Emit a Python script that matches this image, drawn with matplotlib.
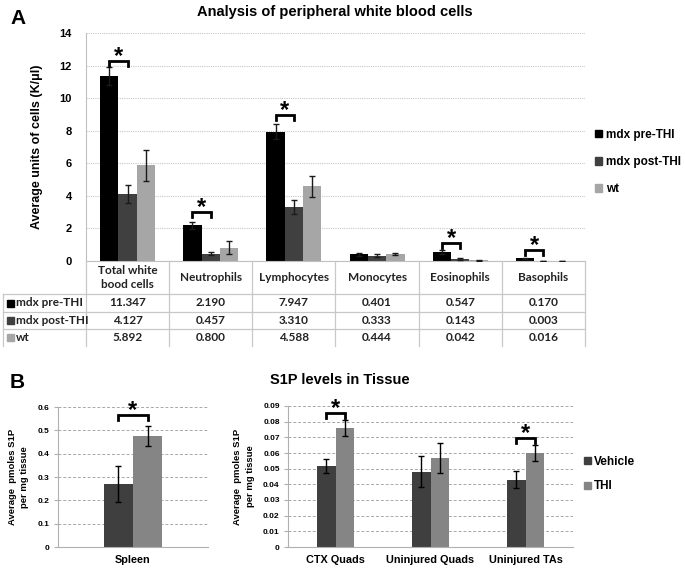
import matplotlib
matplotlib.use('Agg')
import matplotlib.pyplot as plt
import numpy as np
from matplotlib.transforms import blended_transform_factory
from matplotlib.patches import Rectangle

# ---------------- data ----------------
categories_a = ["Total white\nbood cells", "Neutrophils", "Lymphocytes",
                "Monocytes", "Eosinophils", "Basophils"]
series_a = ["mdx pre-THI", "mdx post-THI", "wt"]
pre_thi = [11.347, 2.190, 7.947, 0.401, 0.547, 0.170]
post_thi = [4.127, 0.457, 3.310, 0.333, 0.143, 0.003]
wt = [5.892, 0.800, 4.588, 0.444, 0.042, 0.016]
pre_err = [0.55, 0.22, 0.45, 0.07, 0.10, 0.04]
post_err = [0.55, 0.08, 0.42, 0.07, 0.06, 0.004]
wt_err = [0.95, 0.40, 0.65, 0.07, 0.02, 0.01]
table_text = [["11.347", "2.190", "7.947", "0.401", "0.547", "0.170"],
              ["4.127", "0.457", "3.310", "0.333", "0.143", "0.003"],
              ["5.892", "0.800", "4.588", "0.444", "0.042", "0.016"]]
sig_a_cats = [0, 1, 2, 4, 5]
sig_a_level = [12.3, 3.0, 8.95, 1.1, 0.67]

tissue_left = ["Spleen"]
veh_left = [0.270]
thi_left = [0.476]
veh_left_err = [0.077]
thi_left_err = [0.043]

tissue_right = ["CTX Quads", "Uninjured Quads", "Uninjured TAs"]
veh_right = [0.0515, 0.048, 0.043]
thi_right = [0.076, 0.057, 0.060]
veh_right_err = [0.0045, 0.010, 0.0055]
thi_right_err = [0.005, 0.0095, 0.005]
sig_left_level = [0.566]
sig_right_cats = [0, 2]
sig_right_level = [0.0855, 0.0695]

# ---------------- style ----------------
W, H = 685, 575
plt.rcParams['font.family'] = ['Liberation Sans', 'DejaVu Sans']
colors_a = ['#000000', '#404040', '#a6a6a6']
colors_b = ['#3f3f3f', '#858585']
fig = plt.figure(figsize=(W / 100, H / 100), dpi=100)


def px_axes(l, t, r, b):
    return fig.add_axes([l / W, 1 - b / H, (r - l) / W, (b - t) / H])


# ---------------- Panel A ----------------
axA = px_axes(86, 33, 585, 261)
x = np.arange(len(categories_a))
bw = 0.22
for k, (vals, errs) in enumerate([(pre_thi, pre_err), (post_thi, post_err), (wt, wt_err)]):
    axA.bar(x + (k - 1) * bw, vals, bw, color=colors_a[k], zorder=2, label=series_a[k])
    axA.errorbar(x + (k - 1) * bw, vals, yerr=errs, fmt='none', ecolor='#1a1a1a',
                 elinewidth=1, capsize=2, capthick=1, zorder=3)
axA.set_xlim(-0.5, len(categories_a) - 0.5)
axA.set_ylim(0, 14)
axA.set_yticks(np.arange(0, 15, 2))
axA.yaxis.grid(True, color='#c8c8c8', linestyle=(0, (1, 1)), linewidth=0.8, zorder=0)
axA.set_axisbelow(True)
axA.set_xticks([])
for s in ['top', 'right']:
    axA.spines[s].set_visible(False)
axA.spines['left'].set_color('#c0c0c0')
axA.spines['bottom'].set_color('#c0c0c0')
axA.tick_params(axis='y', length=0, labelsize=8, pad=10)
for lab in axA.get_yticklabels():
    lab.set_fontweight('bold')
axA.set_ylabel("Average units of cells (K/\u03bcl)", fontsize=9, fontweight='bold', labelpad=12)

for c, lev in zip(sig_a_cats, sig_a_level):
    x1, x2 = c - bw, c
    d = 0.3
    axA.plot([x1, x1, x2, x2], [lev - d, lev, lev, lev - d], color='black', lw=2,
             solid_joinstyle='miter', zorder=4, clip_on=False)
    axA.annotate('*', xy=((x1 + x2) / 2, lev), xytext=(0, -5), textcoords='offset points',
                 ha='center', va='bottom', fontsize=17, fontweight='bold')

handles_a = [Rectangle((0, 0), 1, 1, color=c) for c in colors_a]
fig.legend(handles_a, series_a, loc='center left', bbox_to_anchor=(584 / W, 1 - 162 / H),
           frameon=False, handlelength=0.65, handleheight=0.65, handletextpad=0.35,
           labelspacing=1.3, prop={'weight': 'bold', 'size': 8.5})

fig.text(335 / W, 1 - 12 / H, "Analysis of peripheral white blood cells", ha='center',
         va='center', fontsize=10.5, fontweight='bold')
fig.text(10 / W, 1 - 18 / H, "A", ha='left', va='center', fontsize=15, fontweight='bold')

# ---------------- Table ----------------
ov = fig.add_axes([0, 0, 1, 1])
ov.set_xlim(0, W)
ov.set_ylim(H, 0)
ov.axis('off')
tr = blended_transform_factory(axA.transData, ov.transData)
row_lines = [294, 312, 329]
row_centers = [303, 320.5, 337.5]
tbl_top, tbl_bot = 261, 346
lc = '#c8c8c8'
for b in np.arange(len(categories_a) + 1) - 0.5:
    ov.plot([b, b], [tbl_top, tbl_bot], color=lc, lw=0.9, transform=tr)
for yl in row_lines:
    ov.plot([3, 585], [yl, yl], color=lc, lw=0.9)
ov.plot([3, 3], [294, tbl_bot], color=lc, lw=0.9)
tfont = dict(family=['Lato', 'DejaVu Sans'], fontweight='bold', fontsize=8.5, color='#222222')
for i, cat in enumerate(categories_a):
    ov.text(i, 277.5, cat, ha='center', va='center', transform=tr, linespacing=1.35, **tfont)
for r in range(3):
    ov.add_patch(Rectangle((7, row_centers[r] - 3.5), 7, 7, color=colors_a[r]))
    ov.text(16, row_centers[r], series_a[r], ha='left', va='center', **tfont)
    for i in range(len(categories_a)):
        ov.text(i, row_centers[r], table_text[r][i], ha='center', va='center', transform=tr, **tfont)

# ---------------- Panel B ----------------
fig.text(10 / W, 1 - 383 / H, "B", ha='left', va='center', fontsize=15, fontweight='bold')
fig.text(340 / W, 1 - 380 / H, "S1P levels in Tissue", ha='center', va='center',
         fontsize=10.5, fontweight='bold')


def style_b(ax, ymax, step):
    ax.set_ylim(0, ymax)
    ax.set_yticks(np.arange(0, ymax + step / 2, step))
    ax.yaxis.grid(True, color='#a8a8a8', linestyle=(0, (3, 2)), linewidth=0.7, zorder=0)
    ax.set_axisbelow(True)
    for s in ['top', 'right']:
        ax.spines[s].set_visible(False)
    ax.spines['left'].set_color('#b0b0b0')
    ax.spines['bottom'].set_color('#b0b0b0')
    ax.tick_params(axis='y', length=3, color='#b0b0b0', labelsize=6, pad=3)
    ax.tick_params(axis='x', length=0, labelsize=7.8, pad=6)
    for lab in ax.get_yticklabels() + ax.get_xticklabels():
        lab.set_fontweight('bold')
    ax.set_ylabel("Average  pmoles S1P\nper mg tissue", fontsize=6.8, fontweight='bold',
                  labelpad=6, linespacing=1.5)


def bars_b(ax, cats, veh, thi, verr, terr):
    xb = np.arange(len(cats))
    w = 0.195
    ax.bar(xb - w / 2, veh, w, color=colors_b[0], zorder=2)
    ax.bar(xb + w / 2, thi, w, color=colors_b[1], zorder=2)
    ax.errorbar(xb - w / 2, veh, yerr=verr, fmt='none', ecolor='black', elinewidth=1,
                capsize=2, capthick=1, zorder=3)
    ax.errorbar(xb + w / 2, thi, yerr=terr, fmt='none', ecolor='black', elinewidth=1,
                capsize=2, capthick=1, zorder=3)
    ax.set_xticks(xb)
    ax.set_xticklabels(cats)
    ax.set_xlim(-0.5, len(cats) - 0.5)
    return w


def bracket(ax, c, w, lev, d):
    x1, x2 = c - w / 2, c + w / 2
    ax.plot([x1, x1, x2, x2], [lev - d, lev, lev, lev - d], color='black', lw=2,
            solid_joinstyle='miter', zorder=4, clip_on=False)
    ax.annotate('*', xy=(c, lev), xytext=(0, -5), textcoords='offset points',
                ha='center', va='bottom', fontsize=17, fontweight='bold',
                annotation_clip=False)


axB1 = px_axes(58, 407, 208, 547)
wB = bars_b(axB1, tissue_left, veh_left, thi_left, veh_left_err, thi_left_err)
style_b(axB1, 0.6, 0.1)
axB1.set_yticks(np.arange(0, 0.61, 0.1))
axB1.set_yticklabels(['0', '0.1', '0.2', '0.3', '0.4', '0.5', '0.6'])
for lab in axB1.get_yticklabels():
    lab.set_fontweight('bold')
bracket(axB1, 0, wB, sig_left_level[0], 0.02)

axB2 = px_axes(288, 406, 573, 547)
wB2 = bars_b(axB2, tissue_right, veh_right, thi_right, verr=veh_right_err, terr=thi_right_err)
style_b(axB2, 0.09, 0.01)
axB2.set_yticklabels(['0'] + ['%.2f' % v for v in np.arange(0.01, 0.091, 0.01)])
for lab in axB2.get_yticklabels():
    lab.set_fontweight('bold')
for c, lev in zip(sig_right_cats, sig_right_level):
    bracket(axB2, c, wB2, lev, 0.003)

handles_b = [Rectangle((0, 0), 1, 1, color=c) for c in colors_b]
fig.legend(handles_b, ["Vehicle", "THI"], loc='center left',
           bbox_to_anchor=(573 / W, 1 - 474 / H), frameon=False, handlelength=0.6,
           handleheight=0.6, handletextpad=0.3, labelspacing=1.1,
           prop={'weight': 'bold', 'size': 8.5})

fig.savefig('out.png', dpi=100)
